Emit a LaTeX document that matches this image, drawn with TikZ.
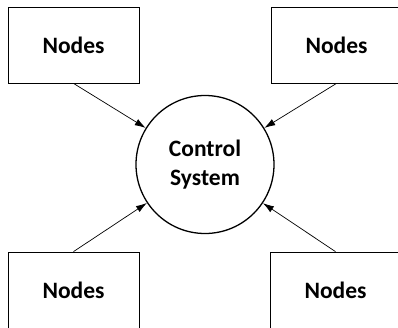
\documentclass[tikz,border=0pt]{standalone}
\usepackage{fontspec}
\setmainfont{Carlito}
\usetikzlibrary{arrows.meta}

\begin{document}
\begin{tikzpicture}[
			x=1pt, y=-1pt,
			box/.style = {draw, line width=0.8pt, minimum width=131pt, minimum height=76pt,
				inner sep=0pt, font=\fontsize{23.5}{27}\selectfont\bfseries},
			main/.style = {draw, circle, line width=1.3pt, minimum size=138pt, inner sep=0pt,
				align=center, font=\fontsize{23.5}{29}\selectfont\bfseries},
			link/.style = {line width=0.7pt, -{Latex[length=11pt,width=7pt]}}
		]
		\clip (0,0) rectangle (398,327);
		\node[main] (cs) at (205,164.5) {Control\\System};
		\node[box] (tl) at (73.5,45) {Nodes};
		\node[box] (tr) at (336.5,45) {Nodes};
		\node[box] (bl) at (73.5,290) {Nodes};
		\node[box] (br) at (335.5,290) {Nodes};
		\draw[link] (tl.south) to (cs);
		\draw[link] (tr.south) to (cs);
		\draw[link] (bl.north) to (cs);
		\draw[link] (br.north) to (cs);
	\end{tikzpicture}
\end{document}
